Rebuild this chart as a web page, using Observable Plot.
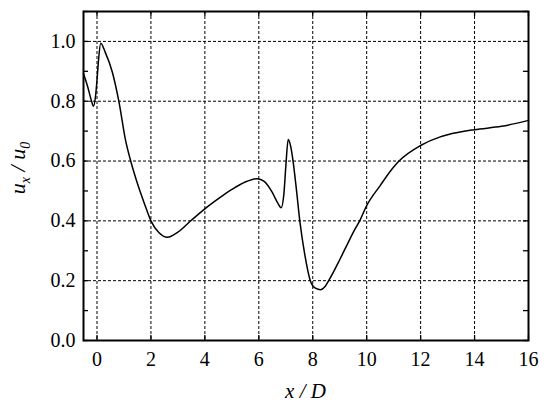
<!DOCTYPE html>
<html>
<head>
<meta charset="utf-8">
<script src="https://cdn.jsdelivr.net/npm/d3@7"></script>
<script src="https://cdn.jsdelivr.net/npm/@observablehq/plot@0.6"></script>
<style>
  html, body { margin: 0; padding: 0; background: #fff; }
  svg, svg text, svg tspan { font-family: "Liberation Serif", "Times New Roman", Tinos, "DejaVu Serif", "Noto Serif", serif !important; }
</style>
</head>
<body>
<div id="chart"></div>
<script>
// x/D positions and ux/u0 values
const xs = [-0.5, -0.35, -0.2, -0.13, -0.05, 0.0, 0.05, 0.14, 0.3, 0.57, 0.81, 1.06, 1.25, 1.5, 1.75, 2.0, 2.3, 2.61, 3.0, 3.5, 4.0, 4.58, 5.0, 5.5, 5.94, 6.2, 6.5, 6.7, 6.83, 6.93, 7.0, 7.09, 7.18, 7.27, 7.4, 7.52, 7.7, 7.91, 8.1, 8.29, 8.45, 8.59, 9.0, 9.3, 9.54, 9.74, 10.0, 10.5, 11.0, 11.2, 12.0, 12.7, 13.0, 14.0, 15.0, 16.0];
const ys = [0.892, 0.85, 0.80, 0.783, 0.82, 0.87, 0.93, 0.994, 0.965, 0.897, 0.80, 0.669, 0.60, 0.525, 0.46, 0.40, 0.36, 0.345, 0.362, 0.402, 0.44, 0.479, 0.505, 0.53, 0.541, 0.532, 0.495, 0.46, 0.444, 0.49, 0.58, 0.672, 0.65, 0.60, 0.50, 0.40, 0.29, 0.20, 0.175, 0.17, 0.18, 0.20, 0.27, 0.325, 0.368, 0.40, 0.451, 0.518, 0.58, 0.60, 0.652, 0.68, 0.688, 0.705, 0.716, 0.736];

const xMajor = [0, 2, 4, 6, 8, 10, 12, 14, 16];
const yMajor = [0.0, 0.2, 0.4, 0.6, 0.8, 1.0];
const yTicks = [0.0, 0.1, 0.2, 0.3, 0.4, 0.5, 0.6, 0.7, 0.8, 0.9, 1.0, 1.1];
const xDomain = [-0.5, 16];
const yDomain = [0, 1.1];

const data = xs.map((x, i) => ({x, y: ys[i]}));

const W = 550, H = 407;
const mL = 83, mR = 22, mT = 11, mB = 67;
const pxX = (xDomain[1] - xDomain[0]) / (W - mL - mR);
const pxY = (yDomain[1] - yDomain[0]) / (H - mT - mB);
const tick = 5;
const FONT = "'Liberation Serif', 'Times New Roman', Tinos, 'DejaVu Serif', serif";

const chart = Plot.plot({
  width: W,
  height: H,
  marginLeft: mL,
  marginRight: mR,
  marginTop: mT,
  marginBottom: mB,
  style: {fontFamily: FONT, fontSize: "19px", color: "#000", background: "#fff"},
  x: {domain: xDomain, ticks: xMajor, tickFormat: d => d3.format("d")(d), label: null},
  y: {domain: yDomain, ticks: yMajor, tickFormat: d => d3.format(".1f")(d), label: null},
  marks: [
    Plot.ruleX(xMajor, {x: d => d, stroke: "#000", strokeWidth: 1, strokeDasharray: "3,2"}),
    Plot.ruleY(yMajor.filter(d => d > 0), {y: d => d, stroke: "#000", strokeWidth: 1, strokeDasharray: "3,2"}),
    // inward ticks, left and right
    Plot.ruleY(yTicks, {y: d => d, x1: xDomain[0], x2: xDomain[0] + tick * pxX, stroke: "#000", strokeWidth: 1.3}),
    Plot.ruleY(yTicks, {y: d => d, x1: xDomain[1] - tick * pxX, x2: xDomain[1], stroke: "#000", strokeWidth: 1.3}),
    // inward ticks, bottom and top
    Plot.ruleX(xMajor, {x: d => d, y1: yDomain[0], y2: yDomain[0] + tick * pxY, stroke: "#000", strokeWidth: 1.3}),
    Plot.ruleX(xMajor, {x: d => d, y1: yDomain[1] - tick * pxY, y2: yDomain[1], stroke: "#000", strokeWidth: 1.3}),
    Plot.axisX({ticks: xMajor, tickSize: 0, tickPadding: 11, tickFormat: d => d3.format("d")(d), label: null, fontSize: 20, fontFamily: FONT}),
    Plot.axisY({ticks: yMajor, tickSize: 0, tickPadding: 8, tickFormat: d => d3.format(".1f")(d), label: null, fontSize: 20, fontFamily: FONT}),
    Plot.line(data, {x: "x", y: "y", curve: "monotone-x", stroke: "#000", strokeWidth: 1.5}),
    Plot.frame({stroke: "#000", strokeWidth: 2})
  ]
});

const svg = d3.select(chart);
// x-axis title: x / D (italic)
svg.append("text")
  .attr("x", mL + (W - mL - mR) / 2)
  .attr("y", 398)
  .attr("text-anchor", "middle")
  .style("font-family", FONT)
  .attr("font-size", 21)
  .attr("font-style", "italic")
  .attr("fill", "#000")
  .text("x / D");
// y-axis title: u_x / u_0 with subscripts
const yl = svg.append("text")
  .attr("transform", `translate(25,168) rotate(-90)`)
  .attr("text-anchor", "middle")
  .style("font-family", FONT)
  .attr("font-size", 22)
  .attr("font-style", "italic")
  .attr("fill", "#000");
yl.append("tspan").text("u");
yl.append("tspan").attr("font-size", 14).attr("dy", 5).text("x");
yl.append("tspan").attr("dy", -5).text(" / u");
yl.append("tspan").attr("font-size", 14).attr("dy", 5).text("0");

document.getElementById("chart").appendChild(chart);
</script>
</body>
</html>
